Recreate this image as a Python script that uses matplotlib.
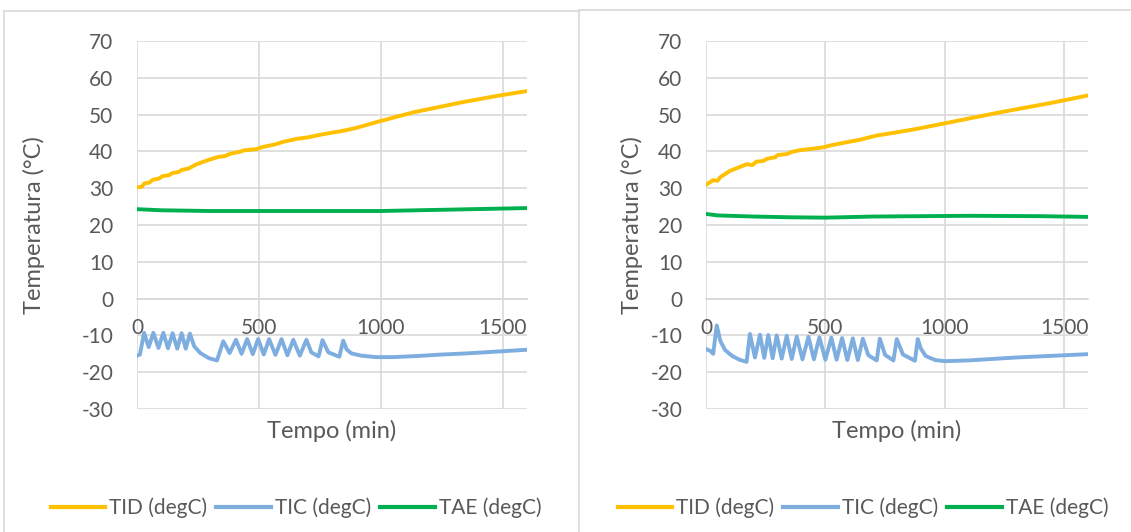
import matplotlib
matplotlib.use("Agg")
import matplotlib.pyplot as plt
from matplotlib.lines import Line2D

plt.rcParams["font.family"] = ["Lato", "DejaVu Sans"]
plt.rcParams["axes.unicode_minus"] = False

# ---- left chart ----
tid_l_t = [0, 20, 30, 50, 65, 90, 105, 130, 145, 170, 185, 210, 244, 290, 333, 360, 380, 422, 440, 490, 510, 572, 600, 654, 700, 750, 800, 846, 900, 996, 1133, 1337, 1488, 1600]
tid_l_v = [30.2, 30.4, 31.3, 31.5, 32.3, 32.6, 33.3, 33.5, 34.1, 34.4, 35.0, 35.3, 36.5, 37.6, 38.5, 38.7, 39.3, 39.9, 40.3, 40.6, 41.1, 42.0, 42.6, 43.4, 43.8, 44.5, 45.1, 45.6, 46.4, 48.2, 50.6, 53.4, 55.2, 56.4]

tic_l_t = [0, 12, 29, 48, 67, 88, 108, 127, 146, 165, 183, 200, 217, 235, 260, 295, 328, 354,
           380, 406, 429, 452, 475, 497, 520, 542, 568, 593, 617, 641, 668, 695, 715, 745, 761, 785, 830, 846,
           860, 880, 920, 980, 1050, 1150, 1250, 1350, 1450, 1550, 1600]
tic_l_v = [-15.5, -15.2, -9.3, -13.2, -9.3, -13.4, -9.3, -13.5, -9.4, -13.6, -9.4, -13.6, -9.5, -13.0, -14.8, -16.2, -16.8, -11.6,
           -14.8, -11.2, -15.0, -11.0, -15.1, -11.0, -15.2, -11.0, -15.3, -11.0, -15.4, -11.2, -15.5, -11.2, -14.6, -15.7, -11.3, -14.6, -15.8, -11.4,
           -13.8, -14.9, -15.5, -15.9, -15.9, -15.6, -15.2, -14.9, -14.5, -14.1, -13.9]

tae_l_t = [0, 100, 300, 500, 700, 1000, 1150, 1300, 1450, 1600]
tae_l_v = [24.3, 24.0, 23.8, 23.8, 23.8, 23.8, 24.0, 24.2, 24.4, 24.6]

# ---- right chart ----
tid_r_t = [0, 30, 48, 60, 100, 170, 195, 210, 240, 255, 290, 300, 340, 360, 400, 430, 491, 520, 589, 640, 714, 800, 881, 1021, 1230, 1439, 1600]
tid_r_v = [30.9, 32.2, 32.0, 33.0, 34.7, 36.5, 36.3, 37.2, 37.4, 38.0, 38.4, 39.0, 39.3, 39.9, 40.4, 40.6, 41.1, 41.6, 42.5, 43.1, 44.3, 45.2, 46.1, 47.9, 50.6, 53.1, 55.2]

tic_r_t = [0, 20, 30, 45, 60, 80, 110, 140, 170, 184,
           205, 226, 244, 261, 279, 296, 317, 338, 359, 380, 404, 429, 452, 475, 500, 525,
           547, 570, 592, 615, 636, 657, 680, 715, 728, 750, 785, 799, 825, 875, 887,
           900, 920, 960, 1000, 1100, 1200, 1300, 1400, 1500, 1600]
tic_r_v = [-13.7, -14.3, -15.0, -7.3, -11.5, -14.0, -15.6, -16.6, -17.2, -9.6,
           -16.0, -9.8, -16.1, -9.9, -16.2, -10.0, -16.3, -10.1, -16.4, -10.3, -16.5, -10.4, -16.5, -10.5, -16.6, -10.6,
           -16.6, -10.7, -16.7, -10.8, -16.7, -10.9, -15.4, -16.8, -10.9, -15.3, -16.8, -11.0, -15.2, -16.9, -11.0,
           -13.6, -15.6, -16.7, -17.0, -16.8, -16.4, -16.0, -15.7, -15.4, -15.1]

tae_r_t = [0, 50, 200, 350, 500, 700, 900, 1100, 1400, 1600]
tae_r_v = [23.0, 22.6, 22.3, 22.1, 22.0, 22.3, 22.4, 22.5, 22.4, 22.2]

series_names = ["TID (degC)", "TIC (degC)", "TAE (degC)"]
colors = ["#FFC000", "#7DAEDF", "#00B050"]
x_ticks = [0, 500, 1000, 1500]
y_ticks = list(range(-30, 71, 10))

W, H = 1131, 532
fig = plt.figure(figsize=(W / 100, H / 100), dpi=100)

# panel borders like the two Excel chart frames
border = "#D9D9D9"
fig.add_artist(Line2D([4 / W, 4 / W], [0, 1 - 11 / H], color=border, lw=1.2))
fig.add_artist(Line2D([4 / W, 579 / W], [1 - 11 / H, 1 - 11 / H], color=border, lw=1.2))
fig.add_artist(Line2D([579 / W, 579 / W], [0, 1 - 10 / H], color=border, lw=1.2))
fig.add_artist(Line2D([579 / W, 1], [1 - 10 / H, 1 - 10 / H], color=border, lw=1.2))

text_col = "#595959"


def draw_panel(rect, tid, tic, tae, legend_x, ylabel_x):
    ax = fig.add_axes(rect)
    for (t, v), c in zip([tid, tic, tae], colors):
        ax.plot(t, v, color=c, lw=2.8, solid_joinstyle="round", zorder=3)
    ax.set_xlim(0, 1600)
    ax.set_ylim(-30, 70)
    ax.set_xticks(x_ticks)
    ax.set_yticks(y_ticks)
    ax.grid(True, color="#D9D9D9", lw=1.2)
    ax.set_axisbelow(True)
    for s in ["top", "right", "left"]:
        ax.spines[s].set_visible(False)
    ax.spines["bottom"].set_position(("data", 0))
    ax.spines["bottom"].set_color("#D9D9D9")
    ax.spines["bottom"].set_linewidth(1.2)
    ax.tick_params(axis="both", length=0, labelsize=15, labelcolor=text_col)
    ax.tick_params(axis="x", pad=14)
    ax.tick_params(axis="y", pad=17)
    ax.set_xlabel("Tempo (min)", fontsize=17, color=text_col)
    ax.xaxis.set_label_coords(0.5, -0.03)
    ax.set_ylabel("Temperatura (°C)", fontsize=17, color=text_col)
    ax.yaxis.set_label_coords(ylabel_x, 0.5)
    handles = [Line2D([], [], color=c, lw=3) for c in colors]
    fig.legend(handles, series_names, loc="center", ncol=3,
               bbox_to_anchor=(legend_x, 1 - 508 / H), frameon=False,
               fontsize=15, labelcolor=text_col, handlelength=2.6,
               handletextpad=0.2, columnspacing=0.45)
    return ax


draw_panel([137 / W, 1 - 409 / H, 390 / W, 368 / H],
           (tid_l_t, tid_l_v), (tic_l_t, tic_l_v), (tae_l_t, tae_l_v), 296 / W, -0.235)
draw_panel([706 / W, 1 - 409 / H, 382 / W, 368 / H],
           (tid_r_t, tid_r_v), (tic_r_t, tic_r_v), (tae_r_t, tae_r_v), 863 / W, -0.165)

fig.savefig("out.png", dpi=100)
